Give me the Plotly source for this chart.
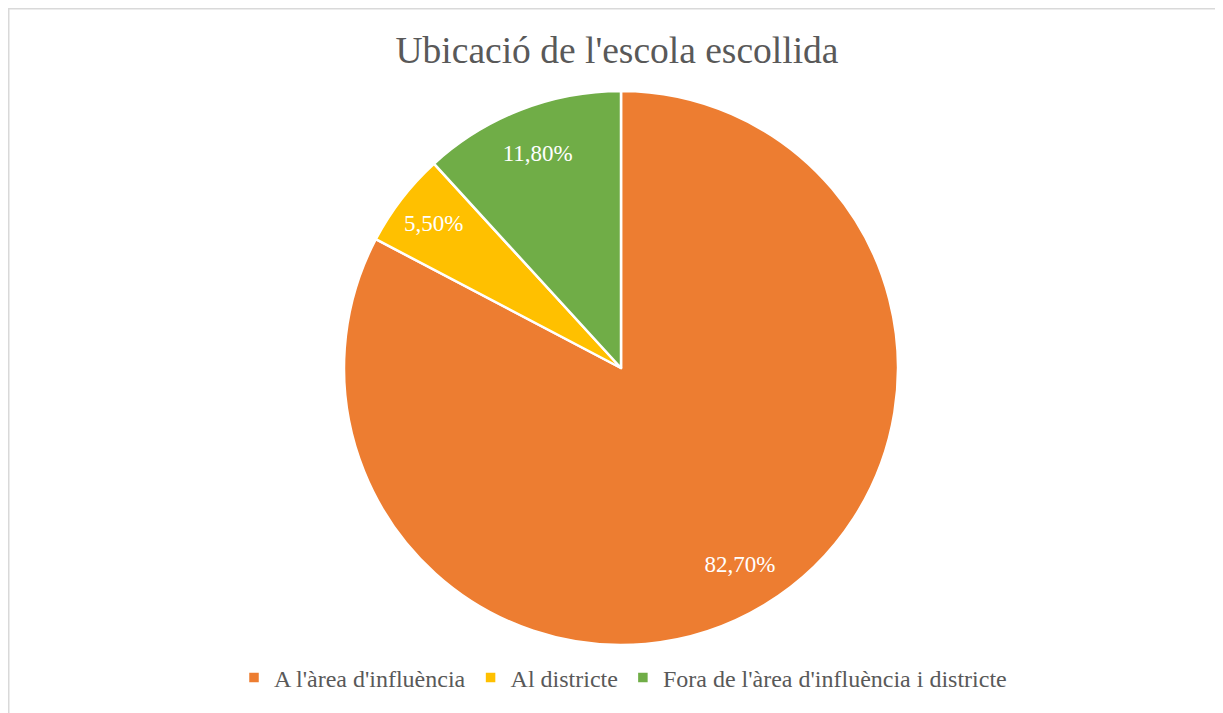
import plotly.graph_objects as go

labels = ["A l'àrea d'influència", "Al districte", "Fora de l'àrea d'influència i districte"]
values = [82.7, 5.5, 11.8]
colors = ["#ED7D31", "#FFC000", "#70AD47"]
title = "Ubicació de l'escola escollida"

# page has an 8px body margin; work in screen pixels and convert
OFF = 8
W, H = 1215, 705
cx, cy, r = 621, 368, 277


def px(x):
    return (x - OFF) / W


def py(y):
    return 1 - (y - OFF) / H


dom = dict(x=[px(cx - r), px(cx + r)], y=[py(cy + r), py(cy - r)])
serif = "Times New Roman, Liberation Serif, serif"

fig = go.Figure()
fig.add_trace(go.Pie(
    labels=labels, values=values, sort=False, direction="clockwise", rotation=0,
    marker=dict(colors=colors, line=dict(color="white", width=2.5)),
    textinfo="none", domain=dom, hoverinfo="label+percent",
))
# transparent ring trace only used to place the data labels near the rim
fig.add_trace(go.Pie(
    labels=labels, values=values, sort=False, direction="clockwise", rotation=0,
    hole=0.66, showlegend=False,
    marker=dict(colors=["rgba(0,0,0,0)"] * 3, line=dict(width=0)),
    texttemplate="%{percent:.2%}", textposition="inside",
    insidetextorientation="horizontal",
    textfont=dict(family=serif, size=23, color="white"),
    domain=dom, hoverinfo="skip",
))

fig.update_layout(
    width=W, height=H, margin=dict(l=0, r=0, t=0, b=0),
    paper_bgcolor="white", plot_bgcolor="white",
    separators=",.",
    title=dict(text=title, x=px(617), xanchor="center", y=py(50), yanchor="middle",
               font=dict(family=serif, size=37.5, color="#595959")),
    legend=dict(orientation="h", x=px(623), xanchor="center", y=py(678), yanchor="middle",
                font=dict(family=serif, size=24, color="#595959"),
                traceorder="normal"),
    shapes=[
        dict(type="line", xref="paper", yref="paper", x0=0, x1=1, y0=1, y1=1,
             line=dict(color="#D9D9D9", width=3)),
        dict(type="line", xref="paper", yref="paper", x0=0, x1=0, y0=0, y1=1,
             line=dict(color="#D9D9D9", width=3)),
    ],
)

fig.write_html("out.html")
